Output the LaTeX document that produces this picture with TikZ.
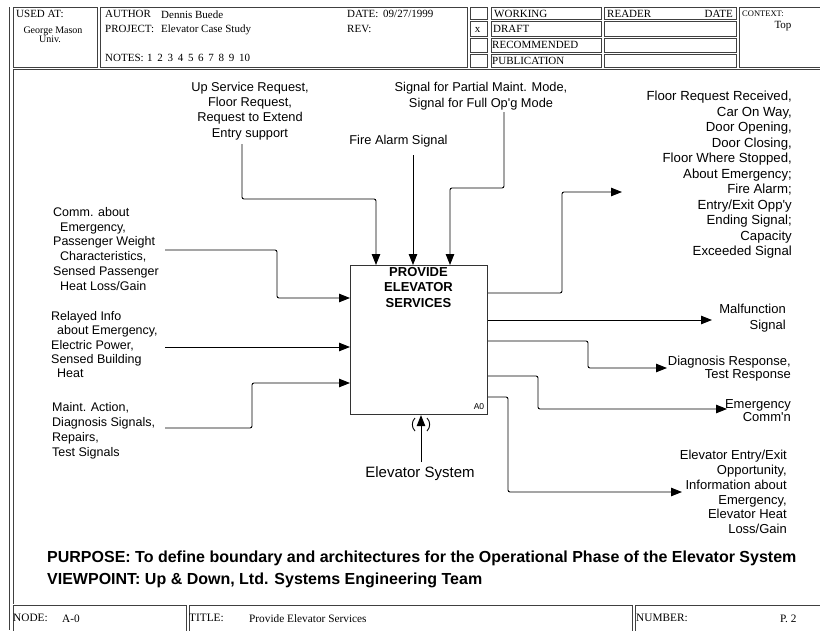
\documentclass[tikz,border=0pt]{standalone}
\usepackage{fontspec}
\setmainfont{Liberation Serif}
\newfontfamily\lab{Liberation Sans}
\usetikzlibrary{arrows.meta,calc}

\tikzset{
  frameline/.style={draw=black!75, line width=0.7pt},
  flow/.style={draw=black, line width=0.9pt, rounded corners=2pt,
               -{Triangle[length=11pt,width=8.5pt]}},
  lbl/.style={font=\lab\fontsize{12.8}{15}\selectfont, inner sep=0pt},
  hdr/.style={font=\fontsize{11}{13}\selectfont, inner sep=0pt, anchor=base west},
  ftr/.style={font=\fontsize{11.3}{13}\selectfont, inner sep=0pt, anchor=base west},
}

\begin{document}
\begin{tikzpicture}[x=1pt, y=-1pt]
\useasboundingbox (0,0) rectangle (820,630);
\fill[white] (0,0) rectangle (820,630);

% ---- form frame ----
\draw[frameline] (9,7) -- (9,630);
\draw[frameline] (13,69) -- (820,69);
\draw[frameline] (13,69) -- (13,604);
\draw[frameline] (13,7) rectangle (97,67);
\draw[frameline] (100,7) rectangle (467,67);
\foreach \ya/\yb in {7/19, 21/36, 38/52, 54/67} {
  \draw[frameline] (470,\ya) rectangle (487,\yb);
  \draw[frameline] (491,\ya) rectangle (601,\yb);
  \draw[frameline] (604,\ya) rectangle (736,\yb);
}
\draw[frameline] (739,7) rectangle (826,67);
\draw[frameline] (13,605) rectangle (186,636);
\draw[frameline] (189,605) rectangle (632,636);
\draw[frameline] (635,605) rectangle (826,636);

% ---- header texts ----
\node[hdr] (usedat) at (16,17.5) {USED AT:};
\node[hdr, anchor=base, font=\fontsize{10}{11}\selectfont] (org1) at (53,33) {George Mason};
\node[hdr, anchor=base, font=\fontsize{10}{11}\selectfont] (org2) at (50,42.5) {Univ.};
\node[hdr] (author) at (105,17.5) {AUTHOR};
\node[hdr] (authname) at (161,18) {Dennis Buede};
\node[hdr] (project) at (105,32) {PROJECT:};
\node[hdr] (projname) at (161,32) {Elevator Case Study};
\node[hdr] (notes) at (105,61.5) {NOTES:};
\foreach \n [count=\k from 0] in {1,2,3,4,5,6,7,8,9,10}
  \node[hdr] (note\n) at (147+10.2*\k,61.5) {\n};
\node[hdr] (date) at (347,17.5) {DATE:};
\node[hdr] (dateval) at (383,17.5) {09/27/1999};
\node[hdr] (rev) at (347,32) {REV:};
\node[hdr, anchor=base] (mark) at (477.5,32.5) {x};
\node[hdr] (working) at (494,17.5) {WORKING};
\node[hdr] (draft) at (493,32.5) {DRAFT};
\node[hdr] (recom) at (492,48.5) {RECOMMENDED};
\node[hdr] (publ) at (492,64) {PUBLICATION};
\node[hdr] (reader) at (607,17.5) {READER};
\node[hdr, anchor=base east] (rdate) at (733,17.5) {DATE};
\node[hdr, font=\fontsize{8.5}{10}\selectfont] (context) at (742,16.5) {CONTEXT:};
\node[hdr, anchor=base] (top) at (783,28.5) {Top};

% ---- footer texts ----
\node[ftr] (nodelbl) at (13,621.5) {NODE:};
\node[ftr] (nodeval) at (62,622.5) {A-0};
\node[ftr] (titlelbl) at (189,621.5) {TITLE:};
\node[ftr] (titleval) at (249,622.5) {Provide Elevator Services};
\node[ftr] (numlbl) at (636,621.5) {NUMBER:};
\node[ftr] (numval) at (780,622.5) {P. 2};

% ---- activity box ----
\node[draw=black!80, line width=1.1pt, minimum width=137pt, minimum height=149pt,
      anchor=north west, inner sep=0pt] (A0) at (350,265) {};
\node[lbl, font=\lab\bfseries\fontsize{13}{15.5}\selectfont, align=center, anchor=north]
  (A0title) at (418.5,267) {PROVIDE\\ELEVATOR\\SERVICES};
\node[lbl, font=\lab\fontsize{8.5}{10}\selectfont] (A0num) at (479,407) {A0};

% ---- controls ----
\node[lbl, align=center, anchor=north, font=\lab\fontsize{12.8}{15.2}\selectfont] (ctl1) at (250,82)
  {Up Service Request,\\Floor Request,\\Request to Extend\\Entry support};
\node[lbl] (ctl2) at (398.5,141) {Fire Alarm Signal};
\node[lbl, align=center, anchor=north, font=\lab\fontsize{12.8}{16}\selectfont] (ctl3) at (481,82)
  {Signal for Partial Maint. Mode,\\Signal for Full Op'g Mode};

\coordinate (c1s) at (242,144);
\coordinate (c1b) at (376,199);
\coordinate (c2s) at (413,155);
\coordinate (c3s) at (504,112);
\coordinate (c3b) at (450,188);
\draw[flow] (c1s) |- (c1b) -- (c1b |- A0.north);
\draw[flow] (c2s) -- (c2s |- A0.north);
\draw[flow] (c3s) |- (c3b) -- (c3b |- A0.north);

% ---- inputs ----
\node[lbl, align=left, anchor=north west, font=\lab\fontsize{12.5}{14.8}\selectfont] (in1) at (53,207)
  {Comm. about\\\hspace*{7pt}Emergency,\\Passenger Weight\\\hspace*{7pt}Characteristics,\\Sensed Passenger\\\hspace*{7pt}Heat Loss/Gain};
\node[lbl, align=left, anchor=north west, font=\lab\fontsize{12.5}{14.4}\selectfont] (in2) at (51,311)
  {Relayed Info\\\hspace*{6pt}about Emergency,\\Electric Power,\\Sensed Building\\\hspace*{6pt}Heat};
\node[lbl, align=left, anchor=north west, font=\lab\fontsize{12.5}{15}\selectfont] (in3) at (52,402)
  {Maint. Action,\\Diagnosis Signals,\\Repairs,\\Test Signals};

\coordinate (i1s) at (165,250);
\coordinate (i1b) at (277,298);
\coordinate (i2s) at (165,347);
\coordinate (i3s) at (165,428);
\coordinate (i3b) at (252,383);
\draw[flow] (i1s) -| (i1b) -- (i1b -| A0.west);
\draw[flow] (i2s) -- (i2s -| A0.west);
\draw[flow] (i3s) -| (i3b) -- (i3b -| A0.west);

% ---- outputs ----
\node[lbl, align=right, anchor=north east, font=\lab\fontsize{13.2}{15.5}\selectfont] (out1) at (792,91)
  {Floor Request Received,\\Car On Way,\\Door Opening,\\Door Closing,\\Floor Where Stopped,\\About Emergency;\\Fire Alarm;\\Entry/Exit Opp'y\\Ending Signal;\\Capacity\\Exceeded Signal};
\node[lbl, align=right, anchor=north east, font=\lab\fontsize{13}{16}\selectfont] (out2) at (786,304)
  {Malfunction\\Signal};
\node[lbl, align=right, anchor=north east, font=\lab\fontsize{13}{13}\selectfont] (out3) at (791,356)
  {Diagnosis Response,\\Test Response};
\node[lbl, align=right, anchor=north east, font=\lab\fontsize{13}{13}\selectfont] (out4) at (791,399)
  {Emergency\\Comm'n};
\node[lbl, align=right, anchor=north east, font=\lab\fontsize{13}{14.8}\selectfont] (out5) at (787,450)
  {Elevator Entry/Exit\\Opportunity,\\Information about\\Emergency,\\Elevator Heat\\Loss/Gain};

\coordinate (o1s) at ($(A0.north east)+(0,28)$);
\coordinate (o2s) at ($(A0.north east)+(0,55)$);
\coordinate (o3s) at ($(A0.north east)+(0,76)$);
\coordinate (o4s) at ($(A0.north east)+(0,111)$);
\coordinate (o5s) at ($(A0.north east)+(0,132)$);
\coordinate (o1b) at (562,192);
\coordinate (o1e) at (622,192);
\coordinate (o2e) at (712,320);
\coordinate (o3b) at (588,368);
\coordinate (o3e) at (667,368);
\coordinate (o4b) at (538,409);
\coordinate (o4e) at (727,409);
\coordinate (o5b) at (508,492);
\coordinate (o5e) at (682,492);
\draw[flow] (o1s) -| (o1b) -- (o1e);
\draw[flow] (o2s) -- (o2e);
\draw[flow] (o3s) -| (o3b) -- (o3e);
\draw[flow] (o4s) -| (o4b) -- (o4e);
\draw[flow] (o5s) -| (o5b) -- (o5e);

% ---- mechanism (tunnelled) ----
\node[lbl, font=\lab\fontsize{15}{17}\selectfont] (mech) at (420,474) {Elevator System};
\coordinate (m) at (421,462);
\draw[flow] (m) -- (m |- A0.south);
\draw[line width=0.9pt] (415,418) to[bend right=45] (415,431);
\draw[line width=0.9pt] (427,418) to[bend left=45] (427,431);

% ---- purpose and viewpoint ----
\node[lbl, anchor=west, font=\lab\bfseries\fontsize{16}{18}\selectfont] (purpose) at (47,558)
  {PURPOSE: To define boundary and architectures for the Operational Phase of the Elevator System};
\node[lbl, anchor=west, font=\lab\bfseries\fontsize{16}{18}\selectfont] (viewpoint) at (47,580)
  {VIEWPOINT: Up \& Down, Ltd. Systems Engineering Team};
\end{tikzpicture}
\end{document}
